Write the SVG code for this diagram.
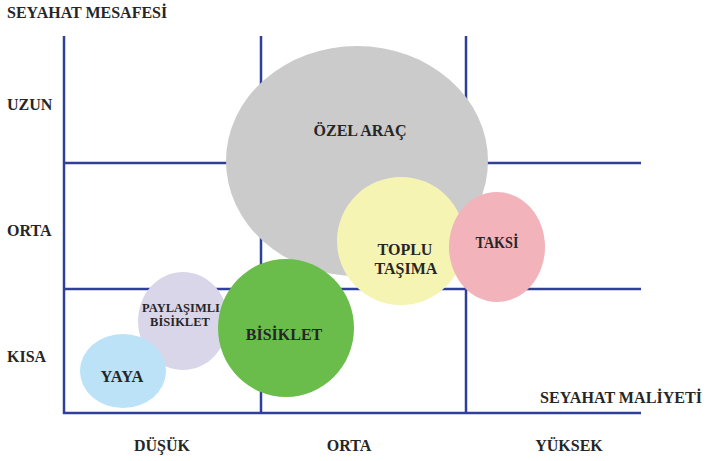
<svg xmlns="http://www.w3.org/2000/svg" width="708" height="461" viewBox="0 0 708 461">
<style>
text{font-family:"Liberation Serif","Times New Roman",serif;font-weight:bold;fill:#262626;font-size:16px}
.c{text-anchor:middle}
.s{font-size:12.5px}
.grid line{stroke:#2f3f9a;stroke-width:2.5}
</style>
<rect width="708" height="461" fill="#ffffff"/>
<g id="connectors" class="grid">
<line x1="64" y1="36" x2="64" y2="414"/>
<line x1="261" y1="36" x2="261" y2="414"/>
<line x1="466" y1="36" x2="466" y2="414"/>
<line x1="63" y1="163" x2="641" y2="163"/>
<line x1="63" y1="289" x2="641" y2="289"/>
<line x1="63" y1="413" x2="641" y2="413"/>
</g>
<g id="axis-labels">
<text x="7" y="18">SEYAHAT MESAFESİ</text>
<text x="7" y="110">UZUN</text>
<text x="7" y="236">ORTA</text>
<text x="7" y="362">KISA</text>
<text x="540" y="403" textLength="162" lengthAdjust="spacingAndGlyphs">SEYAHAT MALİYETİ</text>
<text class="c" x="162" y="451">DÜŞÜK</text>
<text class="c" x="349" y="451">ORTA</text>
<text class="c" x="569" y="451">YÜKSEK</text>
</g>
<g id="ozel-arac">
<ellipse cx="357" cy="161" rx="131" ry="115" fill="#cbcbcb"/>
<text class="c" x="360" y="136">ÖZEL ARAÇ</text>
</g>
<g id="toplu-tasima">
<ellipse cx="401" cy="241" rx="64" ry="64" fill="#f6f4b3"/>
<text class="c" x="405" y="255">TOPLU</text>
<text class="c" x="406" y="274">TAŞIMA</text>
</g>
<g id="taksi">
<ellipse cx="497" cy="247" rx="48" ry="55" fill="#f3b3ba"/>
<text class="c" x="497" y="248" textLength="43" lengthAdjust="spacingAndGlyphs">TAKSİ</text>
</g>
<g id="paylasimli-bisiklet">
<ellipse cx="183" cy="321" rx="45" ry="49" fill="#dad6ea"/>
<text class="c s" x="181" y="312">PAYLAŞIMLI</text>
<text class="c s" x="180" y="326">BİSİKLET</text>
</g>
<g id="yaya">
<ellipse cx="123" cy="371" rx="43" ry="37" fill="#bbe2f6"/>
<text class="c" x="122" y="382" textLength="43" lengthAdjust="spacingAndGlyphs">YAYA</text>
</g>
<g id="bisiklet">
<ellipse cx="286" cy="328" rx="68" ry="69" fill="#6abd4b"/>
<text class="c" x="284" y="340">BİSİKLET</text>
</g>
</svg>
